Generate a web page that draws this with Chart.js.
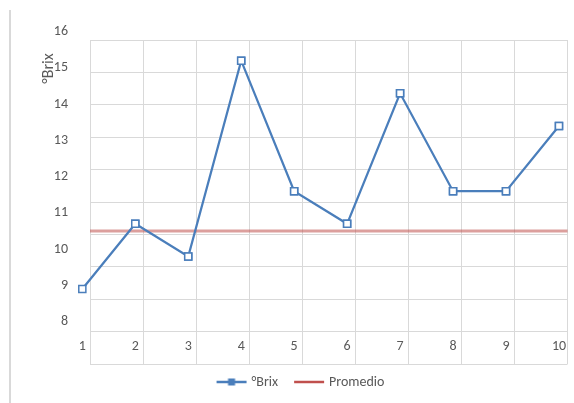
<!DOCTYPE html>
<html>
<head>
<meta charset="utf-8">
<script src="https://cdn.jsdelivr.net/npm/chart.js@4/dist/chart.umd.min.js"></script>
<style>
  html, body { margin: 0; padding: 0; background: #ffffff; overflow: hidden; }
  #wrap { position: relative; width: 574px; height: 403px; }
  #edge { position: absolute; left: 9px; top: 10px; width: 2px; height: 393px; background: #d9d9d9; }
  #c { position: absolute; left: 0; top: 0; }
</style>
</head>
<body>
<div id="wrap">
  <div id="edge"></div>
  <canvas id="c" width="574" height="403"></canvas>
</div>
<script>
// Sample numbers (x axis) and the measured °Brix of each sample
const categories = [1, 2, 3, 4, 5, 6, 7, 8, 9, 10];
const brix = [8.9, 10.7, 9.8, 15.2, 11.6, 10.7, 14.3, 11.6, 11.6, 13.4];
// Average reference line, one value per sample
const promedio = [10.5, 10.5, 10.5, 10.5, 10.5, 10.5, 10.5, 10.5, 10.5, 10.5];
// Labels shown on the value axis
const brixTicks = [8, 9, 10, 11, 12, 13, 14, 15, 16];

const FONT = 'Carlito, Calibri, Lato, "Open Sans", sans-serif';
const TEXT = '#595959';
const GRID = '#d9d9d9';
const BLUE = '#4a7ebb';
const RED = '#c0504d';

// Small legend swatches: a line (with a square marker for the °Brix series)
function swatch(color, withMarker) {
  const cv = document.createElement('canvas');
  cv.width = 60; cv.height = 12;
  const g = cv.getContext('2d');
  g.strokeStyle = color;
  g.lineWidth = 2.5;
  g.beginPath();
  g.moveTo(19, 6); g.lineTo(49, 6);
  g.stroke();
  if (withMarker) {
    g.fillStyle = color;
    g.fillRect(30.5, 2.5, 7, 7);
  }
  return cv;
}
const legendIcons = [swatch(BLUE, true), swatch(RED, false)];

// Draws the rotated title of the value axis
const axisTitle = {
  id: 'axisTitle',
  afterDraw(chart) {
    const ctx = chart.ctx;
    ctx.save();
    ctx.translate(48.5, 68.5);
    ctx.rotate(-Math.PI / 2);
    ctx.font = '16px ' + FONT;
    ctx.fillStyle = TEXT;
    ctx.textAlign = 'center';
    ctx.textBaseline = 'middle';
    ctx.fillText('°Brix', 0, 0);
    ctx.restore();
  }
};

// The first sample sits left of the plot frame; draw the series markers
// without the chart-area cut so that it is shown as well
const edgeMarkers = {
  id: 'edgeMarkers',
  afterDatasetsDraw(chart) {
    const meta = chart.getDatasetMeta(0);
    meta.data.forEach(pt => pt.draw(chart.ctx));
  }
};

new Chart(document.getElementById('c'), {
  type: 'line',
  data: {
    datasets: [
      {
        label: '°Brix',
        data: categories.map((c, i) => ({ x: c, y: brix[i] })),
        xAxisID: 'x',
        yAxisID: 'y',
        borderColor: BLUE,
        borderWidth: 2.25,
        pointStyle: 'rect',
        pointRadius: 5,
        pointBorderWidth: 1.5,
        pointBorderColor: BLUE,
        pointBackgroundColor: '#ffffff',
        tension: 0,
        clip: false
      },
      {
        label: 'Promedio',
        data: promedio.map((v, i) => ({ x: i, y: v })),
        xAxisID: 'xGrid',
        yAxisID: 'y',
        borderColor: 'rgba(192,80,77,0.55)',
        borderWidth: 3,
        pointRadius: 0,
        tension: 0,
        clip: false
      }
    ]
  },
  options: {
    responsive: false,
    animation: false,
    devicePixelRatio: 1,
    layout: { padding: { left: 26, right: 5, top: 40, bottom: 4 } },
    scales: {
      yGrid: {
        type: 'linear', position: 'left', min: 0, max: 10,
        ticks: { display: false, stepSize: 1 },
        grid: { color: GRID, lineWidth: 1, drawTicks: false },
        border: { display: false },
        afterFit: s => { s.width = 0; }
      },
      y: {
        type: 'linear', position: 'left', min: 6.833, max: 15.771,
        afterBuildTicks: s => { s.ticks = brixTicks.map(v => ({ value: v })); },
        ticks: {
          padding: 22, color: TEXT, font: { family: FONT, size: 14 },
          callback: v => String(v)
        },
        grid: { display: false, drawTicks: false },
        border: { display: false },
        afterFit: s => { s.width = 64; }
      },
      xGrid: {
        type: 'linear', position: 'bottom', min: 0, max: 9,
        ticks: { display: false, stepSize: 1 },
        grid: { color: GRID, lineWidth: 1, drawTicks: false },
        border: { display: false },
        afterFit: s => { s.height = 1; }
      },
      x: {
        type: 'linear', position: { yGrid: 0.79 }, min: 1.145, max: 10.161,
        afterBuildTicks: s => { s.ticks = categories.map(v => ({ value: v })); },
        ticks: {
          padding: 0, color: TEXT, font: { family: FONT, size: 14 },
          autoSkip: false, maxRotation: 0,
          callback: v => String(v)
        },
        grid: { display: false, drawTicks: false },
        border: { display: false }
      }
    },
    plugins: {
      tooltip: { enabled: false },
      legend: {
        position: 'bottom',
        labels: {
          usePointStyle: true,
          pointStyleWidth: 34,
          padding: 10,
          color: TEXT,
          font: { family: FONT, size: 14 },
          generateLabels: chart => chart.data.datasets.map((ds, i) => ({
            text: ds.label,
            pointStyle: legendIcons[i],
            fillStyle: 'rgba(0,0,0,0)',
            strokeStyle: 'rgba(0,0,0,0)',
            lineWidth: 0,
            fontColor: TEXT,
            hidden: !chart.isDatasetVisible(i),
            datasetIndex: i
          }))
        }
      }
    }
  },
  plugins: [axisTitle, edgeMarkers]
});
</script>
</body>
</html>
